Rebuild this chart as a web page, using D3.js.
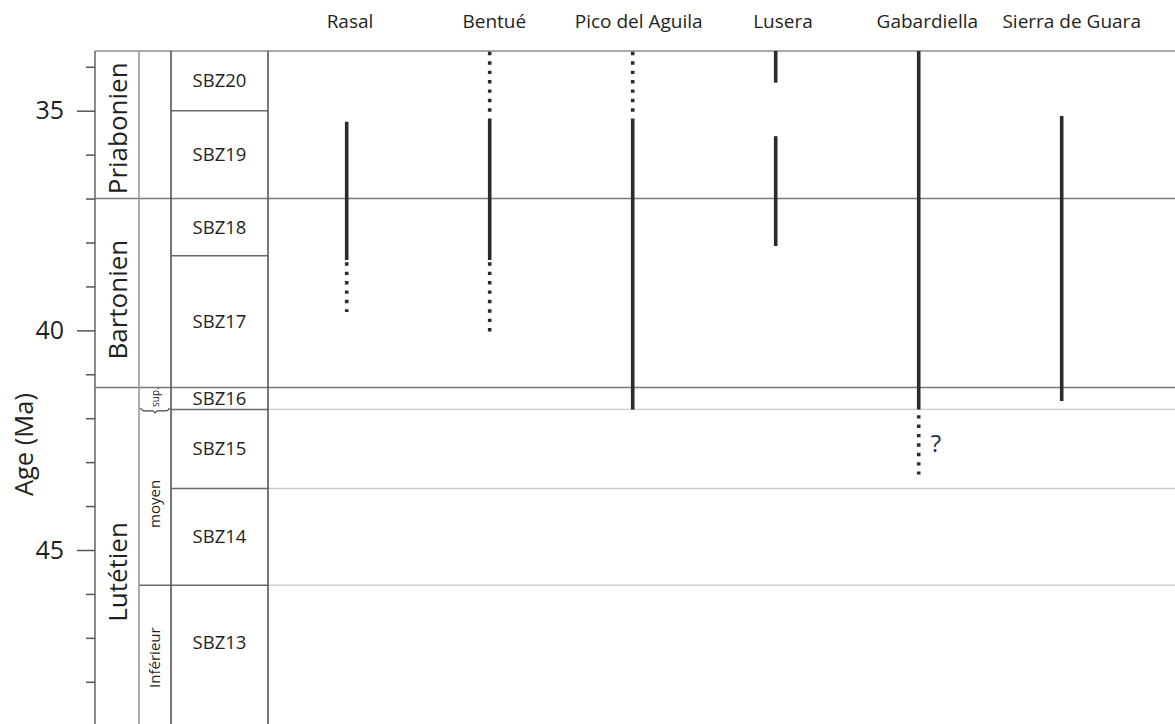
<!DOCTYPE html>
<html>
<head>
<meta charset="utf-8">
<script src="https://cdn.jsdelivr.net/npm/d3@7"></script>
<style>
  html, body { margin: 0; padding: 0; background: #fff; }
  svg { display: block; }
  text { font-family: "Open Sans", "Noto Sans", sans-serif; fill: #231f20; }
</style>
</head>
<body>
<svg id="chart" width="1175" height="724"></svg>
<script>
// ---------------- data ----------------
const localities = ["Rasal", "Bentué", "Pico del Aguila", "Lusera", "Gabardiella", "Sierra de Guara"];

// [locality, start age (Ma), end age (Ma), style]
const rangeSegments = [
  ["Rasal", 35.25, 38.40, "solid"],
  ["Rasal", 38.45, 39.58, "dotted"],
  ["Bentué", 33.66, 35.05, "dotted"],
  ["Bentué", 35.18, 38.40, "solid"],
  ["Bentué", 38.45, 40.08, "dotted"],
  ["Pico del Aguila", 33.66, 35.05, "dotted"],
  ["Pico del Aguila", 35.18, 41.80, "solid"],
  ["Lusera", 33.64, 34.36, "solid"],
  ["Lusera", 35.58, 38.08, "solid"],
  ["Gabardiella", 33.64, 41.80, "solid"],
  ["Gabardiella", 41.93, 43.28, "dotted"],
  ["Sierra de Guara", 35.12, 41.61, "solid"]
];
const queryMarks = [["Gabardiella", 42.57, "?"]];

const stageNames = ["Priabonien", "Bartonien", "Lutétien"];
const stageBounds = [33.64, 37.0, 41.3, 49.0];
const stageLabelAges = [35.4, 39.3, 45.5];

const substageNames = ["sup.", "moyen", "Inférieur"];
const substageBounds = [41.3, 41.8, 45.8, 49.0];
const substageLabelAges = [41.52, 43.95, 47.45];

const zoneNames = ["SBZ20", "SBZ19", "SBZ18", "SBZ17", "SBZ16", "SBZ15", "SBZ14", "SBZ13"];
const zoneBounds = [33.64, 35.0, 37.0, 38.3, 41.3, 41.8, 43.6, 45.8, 49.0];

const majorTicks = [35, 40, 45];
const minorTicks = [34, 36, 37, 38, 39, 41, 42, 43, 44, 46, 47, 48];

// ---------------- layout ----------------
const W = 1175;
const colStage = [95, 139], colSub = [139, 171], colZone = [171, 268];

const y = d3.scaleLinear().domain([35, 45]).range([110.7, 550]);
const topAge = stageBounds[0], baseAge = stageBounds[stageBounds.length - 1];
const xLine = d3.scalePoint().domain(localities).range([346.7, 1061.7]);
const xLabel = d3.scalePoint().domain(localities).range([350, 1071.7]);

const svg = d3.select("#chart");

// horizontal lines -------------
function hline(age, x1, x2, color, w) {
  svg.append("line").attr("x1", x1).attr("x2", x2)
    .attr("y1", y(age)).attr("y2", y(age))
    .attr("stroke", color).attr("stroke-width", w);
}
hline(topAge, colStage[0], W, "#8c8c8c", 1.6);
stageBounds.slice(1, -1).forEach(a => hline(a, colStage[0], W, "#7a7a7a", 1.5));
zoneBounds.slice(1, -1).forEach(a => {
  if (stageBounds.includes(a)) return;
  const startX = substageBounds.includes(a) && a !== substageBounds[1] ? colSub[0] : colZone[0];
  hline(a, startX, colZone[1], "#6a6a6a", 1.5);
  if (a > stageBounds[2]) hline(a, colZone[1], W, "#c9c9c9", 1.4);
});

// vertical column lines
[[colStage[0], "#6e6e6e"], [colSub[0], "#9a9a9a"], [colZone[0], "#555"], [colZone[1], "#555"]]
  .forEach(([x, c]) => {
    svg.append("line").attr("x1", x).attr("x2", x)
      .attr("y1", y(topAge)).attr("y2", y(baseAge))
      .attr("stroke", c).attr("stroke-width", 1.6);
  });

// y axis -------------
const gMajor = svg.append("g").attr("transform", `translate(${colStage[0]},0)`)
  .call(d3.axisLeft(y).tickValues(majorTicks).tickSize(18).tickPadding(13).tickFormat(d3.format("d")));
const gMinor = svg.append("g").attr("transform", `translate(${colStage[0]},0)`)
  .call(d3.axisLeft(y).tickValues(minorTicks).tickSize(9).tickFormat(""));
[gMajor, gMinor].forEach(g => {
  g.select(".domain").remove();
  g.selectAll(".tick line").attr("stroke", "#555").attr("stroke-width", 1.5);
});
gMajor.selectAll(".tick text").attr("font-size", 25).attr("fill", "#231f20")
  .style("font-family", '"Open Sans", sans-serif');

svg.append("text").attr("transform", `translate(33,${y(42.6)}) rotate(-90)`)
  .attr("text-anchor", "middle").attr("font-size", 25.5).text("Age (Ma)");

// stage labels
stageNames.forEach((s, i) => {
  svg.append("text")
    .attr("transform", `translate(${(colStage[0] + colStage[1]) / 2 + 9.5},${y(stageLabelAges[i])}) rotate(-90)`)
    .attr("text-anchor", "middle").attr("font-size", 26).text(s);
});

// substage labels
substageNames.forEach((s, i) => {
  const fs = i === 0 ? 10 : 15;
  svg.append("text")
    .attr("transform", `translate(${(colSub[0] + colSub[1]) / 2 + fs * 0.35},${y(substageLabelAges[i])}) rotate(-90)`)
    .attr("text-anchor", "middle").attr("font-size", fs).text(s);
});
// bracket under "sup."
{
  const yb = y(substageBounds[1]) + 1.5, x1 = colSub[0] + 1.5, x2 = colSub[1] - 1.5, xm = (x1 + x2) / 2;
  svg.append("path")
    .attr("d", `M${x1},${yb - 3} Q${x1 + 1},${yb} ${x1 + 4},${yb} H${xm - 2} L${xm},${yb + 2} L${xm + 2},${yb} H${x2 - 4} Q${x2 - 1},${yb} ${x2},${yb - 3}`)
    .attr("fill", "none").attr("stroke", "#444").attr("stroke-width", 1.1);
}

// zone labels
zoneNames.forEach((z, i) => {
  const bottom = i === zoneNames.length - 1 ? 48.4 : zoneBounds[i + 1];
  svg.append("text")
    .attr("x", (colZone[0] + colZone[1]) / 2)
    .attr("y", (y(zoneBounds[i]) + y(bottom)) / 2)
    .attr("dy", "0.35em").attr("text-anchor", "middle").attr("font-size", 18.5).text(z);
});

// locality headers
svg.selectAll("text.loc").data(localities).join("text").attr("class", "loc")
  .attr("x", d => xLabel(d)).attr("y", 28)
  .attr("text-anchor", "middle").attr("font-size", 19).text(d => d);

// range bars
svg.selectAll("line.range").data(rangeSegments).join("line").attr("class", "range")
  .attr("x1", d => xLine(d[0])).attr("x2", d => xLine(d[0]))
  .attr("y1", d => y(d[1])).attr("y2", d => y(d[2]))
  .attr("stroke", "#2b2b2b").attr("stroke-width", 3.6)
  .attr("stroke-dasharray", d => d[3] === "dotted" ? "3.4,6" : null);

svg.selectAll("text.query").data(queryMarks).join("text").attr("class", "query")
  .attr("x", d => xLine(d[0]) + 12).attr("y", d => y(d[1]))
  .attr("dy", "0.35em").attr("font-size", 24)
  .style("fill", "#1f2d4d").text(d => d[2]);
</script>
</body>
</html>
